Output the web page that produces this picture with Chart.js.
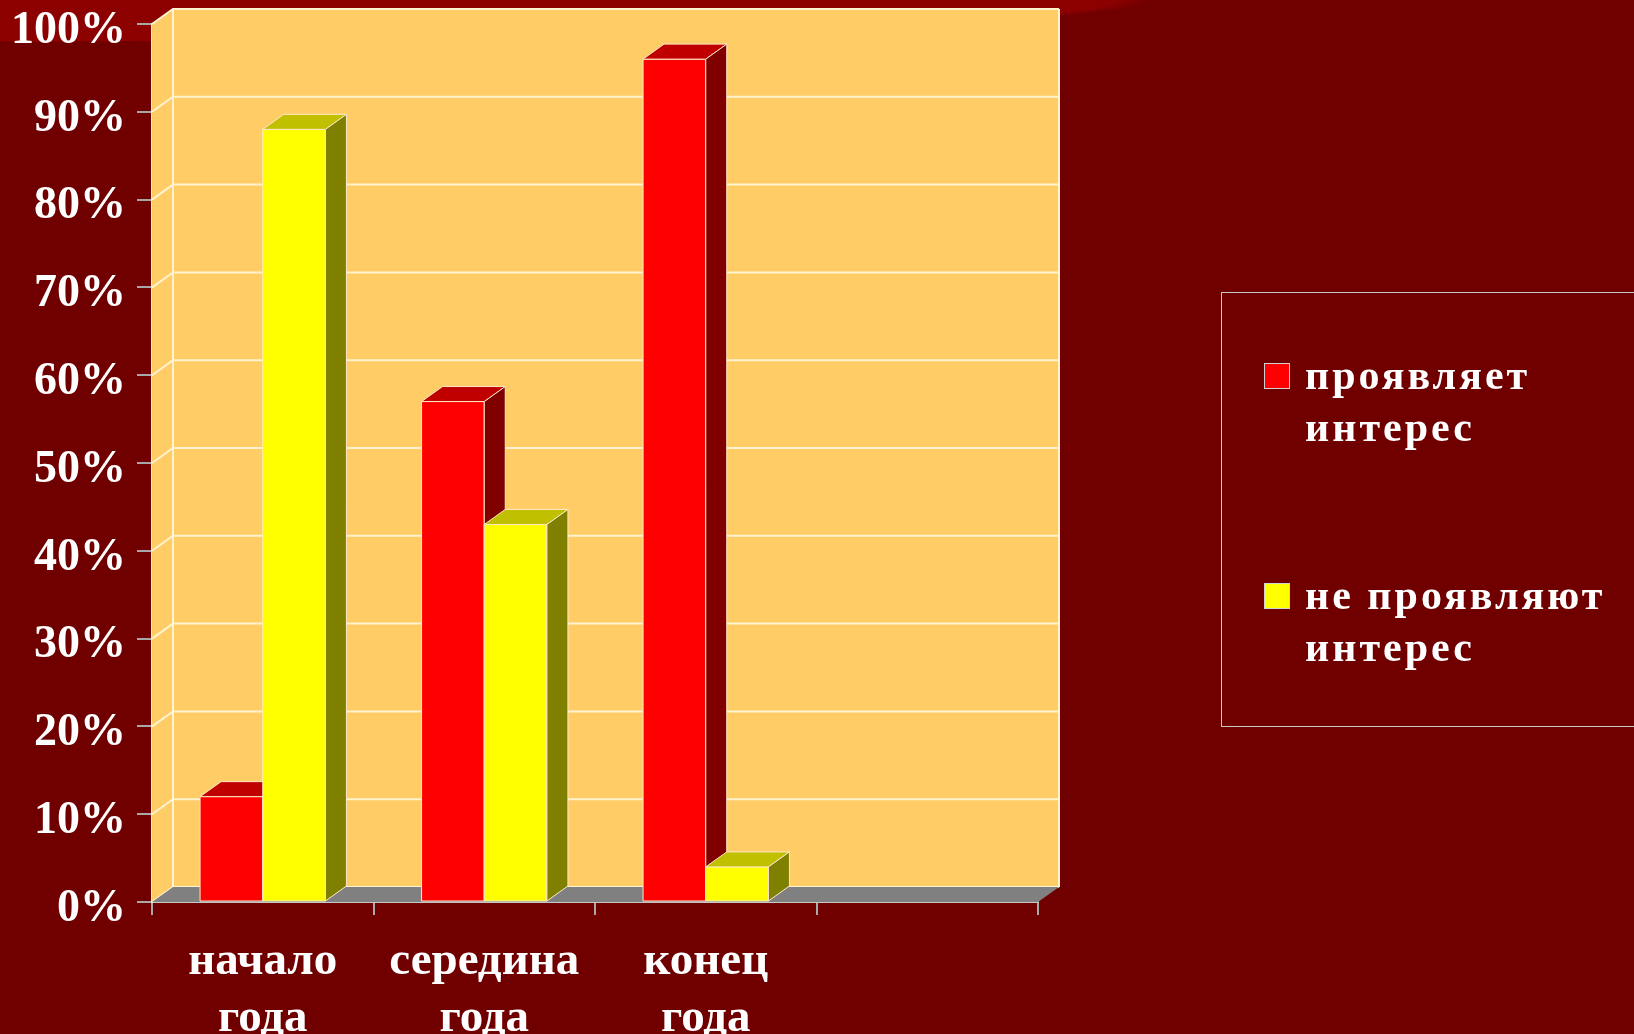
<!DOCTYPE html>
<html>
<head>
<meta charset="utf-8">
<script src="https://cdn.jsdelivr.net/npm/chart.js@4/dist/chart.umd.min.js"></script>
<style>
  html, body { margin: 0; padding: 0; }
  body {
    width: 1634px; height: 1034px; overflow: hidden; position: relative;
    background:
      radial-gradient(ellipse 1150px 42px at 0 0, #8c0000 97%, rgba(140,0,0,0) 100%),
      #700000;
    font-family: "Liberation Serif", "Times New Roman", serif;
  }
  #wrap { position: absolute; left: 0; top: 0; width: 1634px; height: 1034px; }
  #legend {
    position: absolute; left: 1221px; top: 292px; width: 430px; height: 435px;
    border: 1px solid #c8c8c8; box-sizing: border-box;
  }
  .item { position: absolute; left: 42px; display: flex; align-items: flex-start; }
  .box { width: 24px; height: 24px; border: 1px solid #d0d0d0; margin-top: 14px; }
  .txt { margin-left: 15px; color: #fff; font-weight: bold; font-size: 42px;
         line-height: 52px; letter-spacing: 3px; }
</style>
</head>
<body>
<div id="wrap"><canvas id="chart" width="1634" height="1034"></canvas></div>
<div id="legend"></div>
<script>
// data
const categories = [["начало", "года"], ["середина", "года"], ["конец", "года"], ""];
const showInterest = [12, 57, 96, null];
const noInterest = [88, 43, 4, null];
const seriesNames = [["проявляет", "интерес"], ["не проявляют", "интерес"]];
const yTicks = [0, 10, 20, 30, 40, 50, 60, 70, 80, 90, 100];

const faces = [
  { front: "#ff0000", top: "#c00000", side: "#800000" },
  { front: "#ffff00", top: "#c0c000", side: "#808000" },
];
const DX = 21, DY = 15;

function poly(ctx, pts, fill, stroke) {
  ctx.beginPath();
  ctx.moveTo(pts[0][0], pts[0][1]);
  for (let i = 1; i < pts.length; i++) ctx.lineTo(pts[i][0], pts[i][1]);
  ctx.closePath();
  ctx.fillStyle = fill;
  ctx.fill();
  if (stroke) {
    ctx.strokeStyle = stroke;
    ctx.lineWidth = 1;
    ctx.stroke();
  }
}

const threeD = {
  id: "threeD",
  beforeDatasetsDraw(chart) {
    const { ctx, chartArea: a, scales: { y } } = chart;
    ctx.save();
    // back wall + side wall
    poly(ctx, [[a.left + DX, a.top - DY], [a.right + DX, a.top - DY], [a.right + DX, a.bottom - DY], [a.left + DX, a.bottom - DY]], "#ffcc66");
    poly(ctx, [[a.left, a.top], [a.left + DX, a.top - DY], [a.left + DX, a.bottom - DY], [a.left, a.bottom]], "#ffcc66");
    // grid lines
    ctx.strokeStyle = "#fff3d0";
    ctx.lineWidth = 2;
    y.ticks.forEach(t => {
      const py = y.getPixelForValue(t.value);
      ctx.beginPath();
      ctx.moveTo(a.left, py);
      ctx.lineTo(a.left + DX, py - DY);
      ctx.lineTo(a.right + DX, py - DY);
      ctx.stroke();
    });
    ctx.beginPath();
    ctx.moveTo(a.left + DX, a.top - DY);
    ctx.lineTo(a.left + DX, a.bottom - DY);
    ctx.moveTo(a.right + DX, a.top - DY);
    ctx.lineTo(a.right + DX, a.bottom - DY);
    ctx.stroke();
    // floor
    poly(ctx, [[a.left, a.bottom], [a.left + DX, a.bottom - DY], [a.right + DX, a.bottom - DY], [a.right, a.bottom]], "#808080");
    ctx.restore();
  },
  afterDatasetsDraw(chart) {
    const ctx = chart.ctx;
    ctx.save();
    chart.data.datasets.forEach((ds, i) => {
      const c = faces[i];
      chart.getDatasetMeta(i).data.forEach((bar, j) => {
        if (ds.data[j] == null) return;
        const p = bar.getProps(["x", "y", "width", "base"], true);
        const l = p.x - p.width / 2, r = p.x + p.width / 2;
        const edge = "#ffe8c8";
        poly(ctx, [[l, p.y], [r, p.y], [r, p.base], [l, p.base]], c.front, edge);
        poly(ctx, [[l, p.y], [l + DX, p.y - DY], [r + DX, p.y - DY], [r, p.y]], c.top, edge);
        poly(ctx, [[r, p.y], [r + DX, p.y - DY], [r + DX, p.base - DY], [r, p.base]], c.side, edge);
      });
    });
    ctx.restore();
  }
};

const chart = new Chart(document.getElementById("chart"), {
  type: "bar",
  data: {
    labels: categories,
    datasets: [
      { label: seriesNames[0].join(" "), data: showInterest, backgroundColor: faces[0].front },
      { label: seriesNames[1].join(" "), data: noInterest, backgroundColor: faces[1].front },
    ],
  },
  options: {
    responsive: false,
    animation: false,
    layout: { padding: { top: 24, right: 596, bottom: 0, left: 0 } },
    datasets: { bar: { categoryPercentage: 0.566, barPercentage: 1 } },
    plugins: { legend: { display: false }, tooltip: { enabled: false } },
    scales: {
      x: {
        afterFit(s) { s.height = 132; },
        grid: { drawOnChartArea: false, tickLength: 13, color: "#a8a8a8", lineWidth: 2, offset: true },
        border: { color: "#c8c8c8", width: 2 },
        ticks: { color: "#ffffff", padding: 19, font: { family: "Liberation Serif", size: 47, weight: "bold", lineHeight: 1.2 } },
      },
      y: {
        min: 0, max: 100,
        afterFit(s) { s.width = 152; s.paddingTop = 0; s.paddingBottom = 0; },
        afterBuildTicks(s) { s.ticks = yTicks.map(v => ({ value: v })); },
        grid: { drawOnChartArea: false, tickLength: 15, color: "#a8a8a8", lineWidth: 2 },
        border: { color: "#f0e8d8", width: 2 },
        ticks: {
          color: "#ffffff", padding: 11, labelOffset: 7,
          font: { family: "Liberation Serif", size: 46, weight: "bold", lineHeight: 0.4 },
          callback: v => v + "%",
        },
      },
    },
  },
  plugins: [threeD],
});

// legend built from the series names
const legend = document.getElementById("legend");
const itemTops = [56, 276];
seriesNames.forEach((lines, i) => {
  const item = document.createElement("div");
  item.className = "item";
  item.style.top = itemTops[i] + "px";
  const box = document.createElement("div");
  box.className = "box";
  box.style.background = faces[i].front;
  const txt = document.createElement("div");
  txt.className = "txt";
  txt.innerHTML = lines.join("<br>");
  item.appendChild(box);
  item.appendChild(txt);
  legend.appendChild(item);
});
</script>
</body>
</html>
